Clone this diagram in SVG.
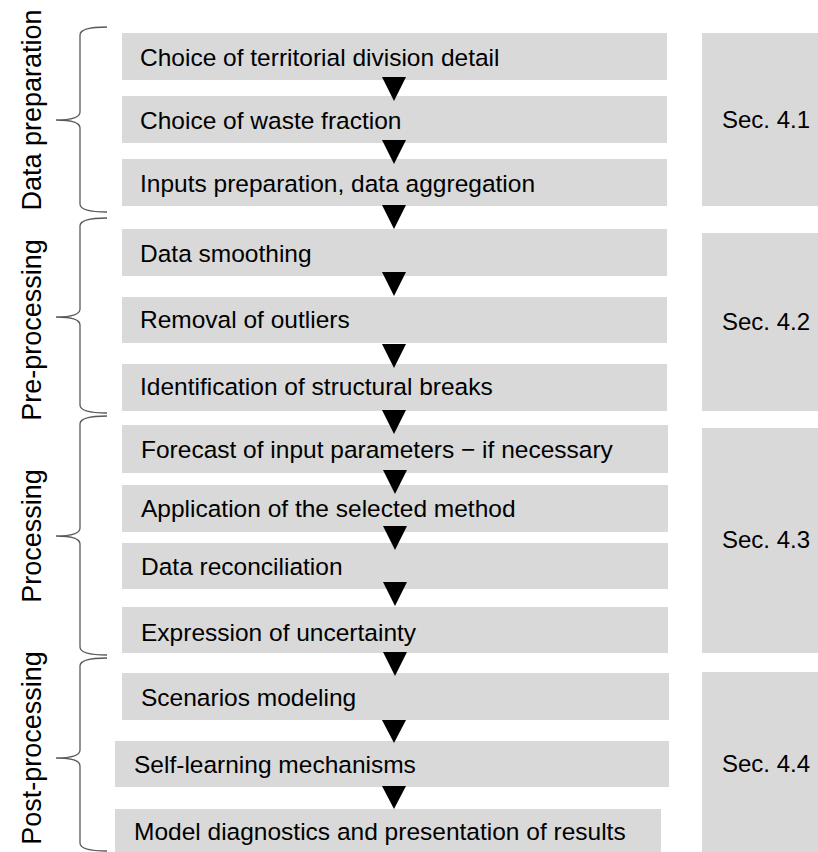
<svg xmlns="http://www.w3.org/2000/svg" width="818" height="852" viewBox="0 0 818 852">
<style>
.box{fill:#d9d9d9}
.t{font-family:"Liberation Sans",Arial,sans-serif;font-size:24.5px;fill:#000}
.s{font-family:"Liberation Sans",Arial,sans-serif;font-size:24px;fill:#000}
.side{font-family:"Liberation Sans",Arial,sans-serif;font-size:27px;fill:#000;text-anchor:middle}
.brace{fill:none;stroke:#595959;stroke-width:1.3}
.arr{fill:#000}
</style>
<rect width="818" height="852" fill="#fff"/>
<g id="braces">
<path class="brace" d="M107,27 Q80,27 80,35 L80,112 Q80,120 56,120 Q80,120 80,128 L80,204 Q80,212 107,212"/>
<path class="brace" d="M107,218 Q80,218 80,226 L80,309 Q80,317 56,317 Q80,317 80,325 L80,405 Q80,413 107,413"/>
<path class="brace" d="M107,416 Q80,416 80,424 L80,528 Q80,536 56,536 Q80,536 80,544 L80,647 Q80,655 107,655"/>
<path class="brace" d="M107,658 Q80,658 80,666 L80,750 Q80,758 56,758 Q80,758 80,766 L80,843 Q80,851 107,851"/>
</g>
<g id="side-labels">
<text class="side" transform="translate(41,110) rotate(-90)">Data preparation</text>
<text class="side" transform="translate(41,330) rotate(-90)">Pre-processing</text>
<text class="side" transform="translate(41,536) rotate(-90)">Processing</text>
<text class="side" transform="translate(41,748) rotate(-90)">Post-processing</text>
</g>
<g id="n1"><rect class="box" x="122" y="33" width="545" height="47"/><text class="t" x="140" y="66">Choice of territorial division detail</text></g>
<g id="n2"><rect class="box" x="122" y="96" width="545" height="47"/><text class="t" x="140" y="129">Choice of waste fraction</text></g>
<g id="n3"><rect class="box" x="122" y="159" width="545" height="47"/><text class="t" x="140" y="192">Inputs preparation, data aggregation</text></g>
<g id="n4"><rect class="box" x="122" y="229" width="545" height="47"/><text class="t" x="140" y="262">Data smoothing</text></g>
<g id="n5"><rect class="box" x="122" y="297" width="545" height="46"/><text class="t" x="140" y="328">Removal of outliers</text></g>
<g id="n6"><rect class="box" x="122" y="364" width="545" height="47"/><text class="t" x="140" y="395">Identification of structural breaks</text></g>
<g id="n7"><rect class="box" x="122" y="425" width="546" height="48"/><text class="t" x="141" y="458">Forecast of input parameters − if necessary</text></g>
<g id="n8"><rect class="box" x="122" y="485" width="546" height="47"/><text class="t" x="141" y="517">Application of the selected method</text></g>
<g id="n9"><rect class="box" x="122" y="543" width="546" height="46"/><text class="t" x="141" y="575">Data reconciliation</text></g>
<g id="n10"><rect class="box" x="122" y="607" width="546" height="46"/><text class="t" x="141" y="641">Expression of uncertainty</text></g>
<g id="n11"><rect class="box" x="122" y="673" width="547" height="47"/><text class="t" x="141" y="706">Scenarios modeling</text></g>
<g id="n12"><rect class="box" x="115" y="741" width="554" height="46"/><text class="t" x="134" y="773">Self-learning mechanisms</text></g>
<g id="n13"><rect class="box" x="115" y="809" width="546" height="43"/><text class="t" x="134" y="840">Model diagnostics and presentation of results</text></g>
<g id="s41"><rect class="box" x="702" y="33" width="116" height="173"/><text class="s" x="722" y="128">Sec. 4.1</text></g>
<g id="s42"><rect class="box" x="702" y="233" width="116" height="178"/><text class="s" x="722" y="330">Sec. 4.2</text></g>
<g id="s43"><rect class="box" x="702" y="428" width="116" height="225"/><text class="s" x="722" y="548">Sec. 4.3</text></g>
<g id="s44"><rect class="box" x="702" y="672" width="116" height="180"/><text class="s" x="722" y="772">Sec. 4.4</text></g>
<g id="connectors">
<path class="arr" d="M382,77 H406 L394,101 Z"/>
<path class="arr" d="M382,140 H406 L394,164 Z"/>
<path class="arr" d="M382,205 H406 L394,229 Z"/>
<path class="arr" d="M382,272 H406 L394,296 Z"/>
<path class="arr" d="M382,344 H406 L394,368 Z"/>
<path class="arr" d="M382,410 H406 L394,434 Z"/>
<path class="arr" d="M383,470 H407 L395,494 Z"/>
<path class="arr" d="M383,526 H407 L395,550 Z"/>
<path class="arr" d="M383,582 H407 L395,606 Z"/>
<path class="arr" d="M383,652 H407 L395,676 Z"/>
<path class="arr" d="M382,720 H406 L394,743 Z"/>
<path class="arr" d="M382,786 H406 L394,809 Z"/>
</g>
</svg>
